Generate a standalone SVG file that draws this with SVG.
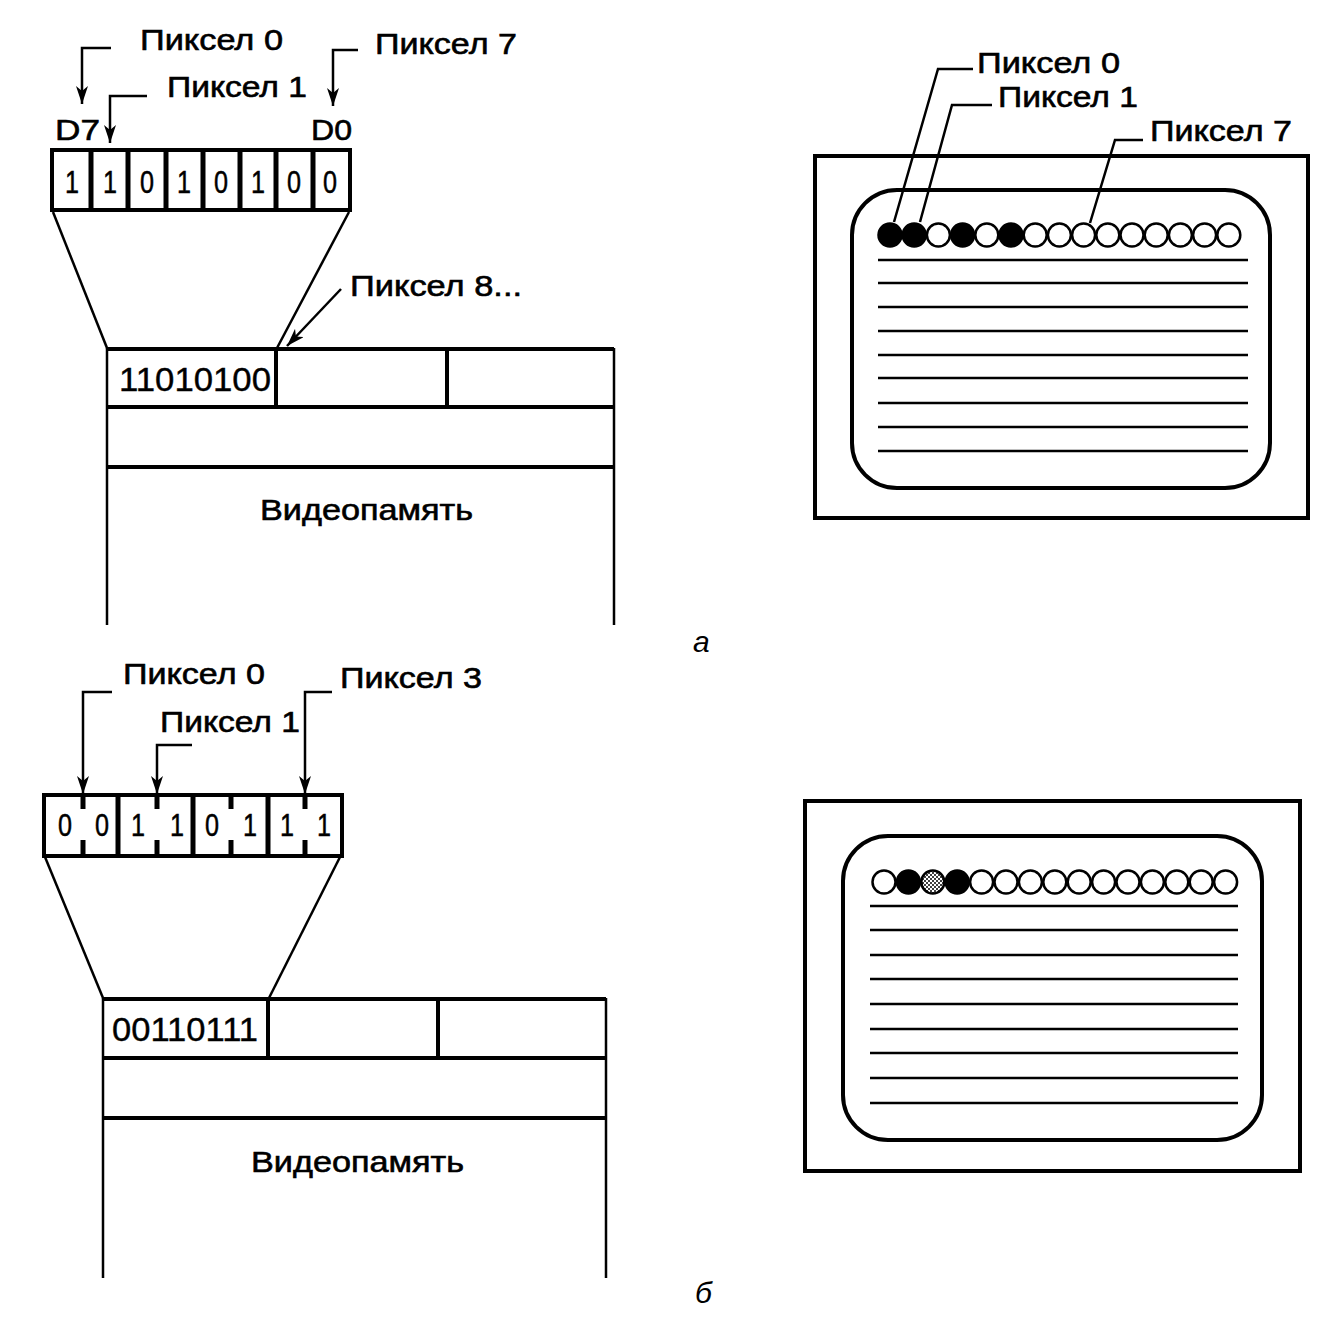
<svg xmlns="http://www.w3.org/2000/svg" width="1339" height="1317" viewBox="0 0 1339 1317">
<style>
.t{font-family:"Liberation Sans",Arial,sans-serif;font-size:30px;fill:#000;stroke:#000;stroke-width:0.6}
.d{font-family:"Liberation Sans",Arial,sans-serif;font-size:32px;fill:#000;text-anchor:middle;stroke:#000;stroke-width:0.5}
.m{font-family:"Liberation Sans",Arial,sans-serif;font-size:34px;fill:#000;stroke:#000;stroke-width:0.4}
.it{font-family:"Liberation Sans",Arial,sans-serif;font-size:30px;font-style:italic;fill:#000}
.th{fill:none;stroke:#000;stroke-width:4}
.ln{fill:none;stroke:#000;stroke-width:2.5}
.ld{fill:none;stroke:#000;stroke-width:2.5}
.dv{stroke:#000;stroke-width:5}
.sl{stroke:#000;stroke-width:2.5}
.cw{fill:#fff;stroke:#000;stroke-width:2.5}
.cb{fill:#000;stroke:#000;stroke-width:2.5}
.cg{fill:url(#dots);stroke:#000;stroke-width:2.5}
</style>
<defs>
<marker id="ah" viewBox="0 0 18 12" refX="18" refY="6" markerWidth="18" markerHeight="12" markerUnits="userSpaceOnUse" orient="auto">
<path d="M0,0 L18,6 L0,12 L5,6 Z" fill="#000"/>
</marker>
<pattern id="dots" width="4" height="4" patternUnits="userSpaceOnUse">
<rect width="4" height="4" fill="#fff"/>
<circle cx="1" cy="1" r="1" fill="#000"/>
<circle cx="3" cy="3" r="1" fill="#000"/>
</pattern>
</defs>

<!-- ===== Panel a ===== -->
<g id="labels-a">
<text class="t" x="140" y="50" textLength="143" lengthAdjust="spacingAndGlyphs">Пиксел 0</text>
<text class="t" x="375" y="54" textLength="142" lengthAdjust="spacingAndGlyphs">Пиксел 7</text>
<text class="t" x="167" y="97" textLength="140" lengthAdjust="spacingAndGlyphs">Пиксел 1</text>
<text class="t" x="55" y="140" textLength="45" lengthAdjust="spacingAndGlyphs">D7</text>
<text class="t" x="311" y="140" textLength="41" lengthAdjust="spacingAndGlyphs">D0</text>
<text class="t" x="350" y="296" textLength="172" lengthAdjust="spacingAndGlyphs">Пиксел 8...</text>
</g>

<g id="byte-a">
<rect class="th" x="52" y="150" width="298" height="60"/>
<line class="dv" x1="91" y1="150" x2="91" y2="210"/>
<line class="dv" x1="128" y1="150" x2="128" y2="210"/>
<line class="dv" x1="166" y1="150" x2="166" y2="210"/>
<line class="dv" x1="203" y1="150" x2="203" y2="210"/>
<line class="dv" x1="240" y1="150" x2="240" y2="210"/>
<line class="dv" x1="276" y1="150" x2="276" y2="210"/>
<line class="dv" x1="313" y1="150" x2="313" y2="210"/>
<text class="d" x="72" y="193" textLength="14" lengthAdjust="spacingAndGlyphs">1</text>
<text class="d" x="110" y="193" textLength="14" lengthAdjust="spacingAndGlyphs">1</text>
<text class="d" x="147" y="193" textLength="14" lengthAdjust="spacingAndGlyphs">0</text>
<text class="d" x="184" y="193" textLength="14" lengthAdjust="spacingAndGlyphs">1</text>
<text class="d" x="221" y="193" textLength="14" lengthAdjust="spacingAndGlyphs">0</text>
<text class="d" x="258" y="193" textLength="14" lengthAdjust="spacingAndGlyphs">1</text>
<text class="d" x="294" y="193" textLength="14" lengthAdjust="spacingAndGlyphs">0</text>
<text class="d" x="330" y="193" textLength="14" lengthAdjust="spacingAndGlyphs">0</text>
</g>

<g id="memory-a">
<line class="ln" x1="107" y1="348" x2="107" y2="625"/>
<line class="ln" x1="614" y1="348" x2="614" y2="625"/>
<line class="th" x1="107" y1="349" x2="614" y2="349"/>
<line class="th" x1="107" y1="407" x2="614" y2="407"/>
<line class="th" x1="107" y1="467" x2="614" y2="467"/>
<line class="th" x1="276" y1="349" x2="276" y2="407"/>
<line class="th" x1="447" y1="349" x2="447" y2="407"/>
<text class="m" x="119" y="391" textLength="152" lengthAdjust="spacingAndGlyphs">11010100</text>
<text class="t" x="260" y="520" textLength="213" lengthAdjust="spacingAndGlyphs">Видеопамять</text>
</g>

<g id="monitor-a">
<rect class="th" x="815" y="156" width="493" height="362"/>
<rect class="th" x="852" y="190" width="418" height="298" rx="45" ry="45"/>
<g class="rows">
<line class="sl" x1="878" y1="260" x2="1248" y2="260"/>
<line class="sl" x1="878" y1="283" x2="1248" y2="283"/>
<line class="sl" x1="878" y1="307" x2="1248" y2="307"/>
<line class="sl" x1="878" y1="331" x2="1248" y2="331"/>
<line class="sl" x1="878" y1="355" x2="1248" y2="355"/>
<line class="sl" x1="878" y1="378" x2="1248" y2="378"/>
<line class="sl" x1="878" y1="403" x2="1248" y2="403"/>
<line class="sl" x1="878" y1="427" x2="1248" y2="427"/>
<line class="sl" x1="878" y1="451" x2="1248" y2="451"/>
</g>
<circle class="cb" cx="890" cy="235" r="11.5"/>
<circle class="cb" cx="914.2" cy="235" r="11.5"/>
<circle class="cw" cx="938.4" cy="235" r="11.5"/>
<circle class="cb" cx="962.6" cy="235" r="11.5"/>
<circle class="cw" cx="986.8" cy="235" r="11.5"/>
<circle class="cb" cx="1011" cy="235" r="11.5"/>
<circle class="cw" cx="1035.2" cy="235" r="11.5"/>
<circle class="cw" cx="1059.4" cy="235" r="11.5"/>
<circle class="cw" cx="1083.6" cy="235" r="11.5"/>
<circle class="cw" cx="1107.8" cy="235" r="11.5"/>
<circle class="cw" cx="1132" cy="235" r="11.5"/>
<circle class="cw" cx="1156.2" cy="235" r="11.5"/>
<circle class="cw" cx="1180.4" cy="235" r="11.5"/>
<circle class="cw" cx="1204.6" cy="235" r="11.5"/>
<circle class="cw" cx="1228.8" cy="235" r="11.5"/>
<text class="t" x="977" y="73" textLength="143" lengthAdjust="spacingAndGlyphs">Пиксел 0</text>
<text class="t" x="998" y="107" textLength="140" lengthAdjust="spacingAndGlyphs">Пиксел 1</text>
<text class="t" x="1150" y="141" textLength="142" lengthAdjust="spacingAndGlyphs">Пиксел 7</text>
</g>

<text class="it" x="693" y="652">а</text>

<!-- ===== Panel b ===== -->
<g id="labels-b">
<text class="t" x="123" y="684" textLength="142" lengthAdjust="spacingAndGlyphs">Пиксел 0</text>
<text class="t" x="340" y="688" textLength="142" lengthAdjust="spacingAndGlyphs">Пиксел 3</text>
<text class="t" x="160" y="732" textLength="140" lengthAdjust="spacingAndGlyphs">Пиксел 1</text>
</g>

<g id="byte-b">
<rect class="th" x="44" y="795" width="298" height="61"/>
<line class="dv" x1="118" y1="795" x2="118" y2="856"/>
<line class="dv" x1="193" y1="795" x2="193" y2="856"/>
<line class="dv" x1="268" y1="795" x2="268" y2="856"/>
<line class="dv" x1="83" y1="795" x2="83" y2="809"/><line class="dv" x1="83" y1="840" x2="83" y2="856"/>
<line class="dv" x1="157" y1="795" x2="157" y2="809"/><line class="dv" x1="157" y1="840" x2="157" y2="856"/>
<line class="dv" x1="231" y1="795" x2="231" y2="809"/><line class="dv" x1="231" y1="840" x2="231" y2="856"/>
<line class="dv" x1="305" y1="795" x2="305" y2="809"/><line class="dv" x1="305" y1="840" x2="305" y2="856"/>
<text class="d" x="65" y="836" textLength="14" lengthAdjust="spacingAndGlyphs">0</text>
<text class="d" x="102" y="836" textLength="14" lengthAdjust="spacingAndGlyphs">0</text>
<text class="d" x="138" y="836" textLength="14" lengthAdjust="spacingAndGlyphs">1</text>
<text class="d" x="177" y="836" textLength="14" lengthAdjust="spacingAndGlyphs">1</text>
<text class="d" x="212" y="836" textLength="14" lengthAdjust="spacingAndGlyphs">0</text>
<text class="d" x="250" y="836" textLength="14" lengthAdjust="spacingAndGlyphs">1</text>
<text class="d" x="287" y="836" textLength="14" lengthAdjust="spacingAndGlyphs">1</text>
<text class="d" x="324" y="836" textLength="14" lengthAdjust="spacingAndGlyphs">1</text>
</g>

<g id="memory-b">
<line class="ln" x1="103" y1="998" x2="103" y2="1278"/>
<line class="ln" x1="606" y1="998" x2="606" y2="1278"/>
<line class="th" x1="103" y1="999" x2="606" y2="999"/>
<line class="th" x1="103" y1="1058" x2="606" y2="1058"/>
<line class="th" x1="103" y1="1118" x2="606" y2="1118"/>
<line class="th" x1="268" y1="999" x2="268" y2="1058"/>
<line class="th" x1="438" y1="999" x2="438" y2="1058"/>
<text class="m" x="112" y="1041" textLength="146" lengthAdjust="spacingAndGlyphs">00110111</text>
<text class="t" x="251" y="1172" textLength="213" lengthAdjust="spacingAndGlyphs">Видеопамять</text>
</g>

<g id="monitor-b">
<rect class="th" x="805" y="801" width="495" height="370"/>
<rect class="th" x="843" y="836" width="419" height="304" rx="45" ry="45"/>
<g class="rows">
<line class="sl" x1="870" y1="906" x2="1238" y2="906"/>
<line class="sl" x1="870" y1="930" x2="1238" y2="930"/>
<line class="sl" x1="870" y1="955" x2="1238" y2="955"/>
<line class="sl" x1="870" y1="979" x2="1238" y2="979"/>
<line class="sl" x1="870" y1="1004" x2="1238" y2="1004"/>
<line class="sl" x1="870" y1="1029" x2="1238" y2="1029"/>
<line class="sl" x1="870" y1="1053" x2="1238" y2="1053"/>
<line class="sl" x1="870" y1="1078" x2="1238" y2="1078"/>
<line class="sl" x1="870" y1="1103" x2="1238" y2="1103"/>
</g>
<circle class="cw" cx="884" cy="882" r="11.5"/>
<circle class="cb" cx="908.4" cy="882" r="11.5"/>
<circle class="cg" cx="932.8" cy="882" r="11.5"/>
<circle class="cb" cx="957.2" cy="882" r="11.5"/>
<circle class="cw" cx="981.6" cy="882" r="11.5"/>
<circle class="cw" cx="1006" cy="882" r="11.5"/>
<circle class="cw" cx="1030.4" cy="882" r="11.5"/>
<circle class="cw" cx="1054.8" cy="882" r="11.5"/>
<circle class="cw" cx="1079.2" cy="882" r="11.5"/>
<circle class="cw" cx="1103.6" cy="882" r="11.5"/>
<circle class="cw" cx="1128" cy="882" r="11.5"/>
<circle class="cw" cx="1152.4" cy="882" r="11.5"/>
<circle class="cw" cx="1176.8" cy="882" r="11.5"/>
<circle class="cw" cx="1201.2" cy="882" r="11.5"/>
<circle class="cw" cx="1225.6" cy="882" r="11.5"/>
</g>

<text class="it" x="695" y="1303">б</text>

<!-- ===== Connectors ===== -->
<g id="connectors">
<polyline class="ld" points="111,48 82,48 82,104" marker-end="url(#ah)"/>
<polyline class="ld" points="147,96 110,96 110,143" marker-end="url(#ah)"/>
<polyline class="ld" points="358,50 333,50 333,106" marker-end="url(#ah)"/>
<line class="ld" x1="53" y1="212" x2="107" y2="348"/>
<line class="ld" x1="349" y1="212" x2="277" y2="348"/>
<line class="ld" x1="341" y1="289" x2="287" y2="346" marker-end="url(#ah)"/>
<polyline class="ld" points="973,69 938,69 894,222"/>
<polyline class="ld" points="992,105 952,105 920,222"/>
<polyline class="ld" points="1143,140 1115,140 1090,223"/>
<polyline class="ld" points="112,692 83,692 83,794" marker-end="url(#ah)"/>
<polyline class="ld" points="192,745 157,745 157,794" marker-end="url(#ah)"/>
<polyline class="ld" points="332,692 305,692 305,794" marker-end="url(#ah)"/>
<line class="ld" x1="45" y1="857" x2="103" y2="998"/>
<line class="ld" x1="340" y1="857" x2="269" y2="998"/>
</g>
</svg>
